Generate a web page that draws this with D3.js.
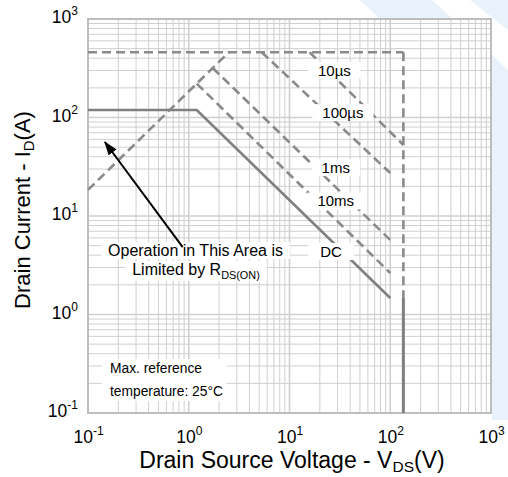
<!DOCTYPE html>
<html>
<head>
<meta charset="utf-8">
<script src="https://cdn.jsdelivr.net/npm/d3@7"></script>
<style>
  body { margin: 0; background: #fff; }
  svg { display: block; font-family: "Liberation Sans", Arial, sans-serif; }
</style>
</head>
<body>
<div id="chart"></div>
<script>
// axis decades (exponents of 10)
const xExponents = [-1, 0, 1, 2, 3];
const yExponents = [-1, 0, 1, 2, 3];

// limits
const rdsLimit = [[0.1, 18.4], [2.5, 460]];
const currentLimit = [[0.1, 460], [135, 460]];
const voltageLimitDashed = [[135, 460], [135, 1.47]];
const voltageLimitSolid = [[135, 1.47], [135, 0.1]];

// pulse lines
const pulseNames = ['10µs', '100µs', '1ms', '10ms'];
const pulseStart = [[15.8, 460], [5.3, 460], [1.73, 318], [1.2, 221]];
const pulseEnd = [[135, 52.6], [100, 27.3], [100, 5.7], [100, 2.64]];
const pulseLabelAt = [[27.9, 303], [33.9, 112], [28.8, 31], [28.8, 14.2]];

// DC line
const dcCurve = [[0.1, 119], [1.2, 119], [100, 1.47]];
const dcLabelAt = [25.8, 4.36];

// annotation
const arrowFrom = [0.87, 4.84];
const arrowTo = [0.147, 56.4];

const W = 508, H = 477;
const svg = d3.select('#chart').append('svg')
    .attr('width', W)
    .attr('height', H);

// pale watermark bands behind the chart
const wm = svg.append('g').attr('fill', '#e9f1fb');
wm.append('path').attr('d', 'M360,0 L432,0 L508,70 L508,140 Z');
wm.append('path').attr('d', 'M470,0 L508,0 L508,30 Z');
wm.append('path').attr('d', 'M492,90 L508,70 L508,420 L492,420 Z');

const x = d3.scaleLog().domain([0.1, 1000]).range([88, 491]);
const y = d3.scaleLog().domain([0.1, 1000]).range([413, 19]);

// plot background
svg.append('rect')
    .attr('x', x.range()[0]).attr('y', y.range()[1])
    .attr('width', x.range()[1] - x.range()[0])
    .attr('height', y.range()[0] - y.range()[1])
    .attr('fill', '#fff');

// grid values: 1..9 for each decade
const gridVals = [];
for (let e = -1; e < 3; e++) {
    for (let k = 1; k <= 9; k++) gridVals.push(k * Math.pow(10, e));
}
gridVals.push(1000);
const isDecade = d => Math.abs(Math.log10(d) - Math.round(Math.log10(d))) < 1e-9;

const grid = svg.append('g');
grid.selectAll('line.v')
    .data(gridVals)
    .enter().append('line')
    .attr('class', 'v')
    .attr('x1', d => x(d)).attr('x2', d => x(d))
    .attr('y1', y.range()[0]).attr('y2', y.range()[1])
    .attr('stroke', '#cfcfcf')
    .attr('stroke-width', d => isDecade(d) ? 1.6 : 1);
grid.selectAll('line.h')
    .data(gridVals)
    .enter().append('line')
    .attr('class', 'h')
    .attr('y1', d => y(d)).attr('y2', d => y(d))
    .attr('x1', x.range()[0]).attr('x2', x.range()[1])
    .attr('stroke', '#cfcfcf')
    .attr('stroke-width', d => isDecade(d) ? 1.6 : 1);

// border
svg.append('rect')
    .attr('x', x.range()[0]).attr('y', y.range()[1])
    .attr('width', x.range()[1] - x.range()[0])
    .attr('height', y.range()[0] - y.range()[1])
    .attr('fill', 'none')
    .attr('stroke', '#bdbdbd')
    .attr('stroke-width', 2);

const line = d3.line().x(d => x(d[0])).y(d => y(d[1]));
const dash = '9,5';
const lineColor = '#8a8a8a';

const curves = svg.append('g').attr('fill', 'none');
[rdsLimit, currentLimit, voltageLimitDashed].forEach(pts => {
    curves.append('path')
        .attr('d', line(pts))
        .attr('stroke', lineColor)
        .attr('stroke-width', 2.6)
        .attr('stroke-dasharray', dash);
});
pulseStart.forEach((s, i) => {
    curves.append('path')
        .attr('d', line([s, pulseEnd[i]]))
        .attr('stroke', lineColor)
        .attr('stroke-width', 2.6)
        .attr('stroke-dasharray', dash);
});
curves.append('path')
    .attr('d', line(voltageLimitSolid))
    .attr('stroke', '#7f7f7f')
    .attr('stroke-width', 3);
curves.append('path')
    .attr('d', line(dcCurve))
    .attr('stroke', '#808080')
    .attr('stroke-width', 2.6);

// labels with white boxes
function boxedText(g, parts, cx, baseline, size, padX) {
    const t = g.append('text')
        .attr('x', cx)
        .attr('y', baseline)
        .attr('text-anchor', 'middle')
        .attr('font-size', size)
        .attr('fill', '#000');
    parts.forEach(p => {
        const s = t.append('tspan').text(p.text);
        if (p.sub) s.attr('font-size', size * 0.68).attr('dy', 4);
    });
    const b = t.node().getBBox();
    g.insert('rect', () => t.node())
        .attr('x', b.x - padX)
        .attr('y', b.y)
        .attr('width', b.width + 2 * padX)
        .attr('height', b.height)
        .attr('fill', '#fff');
    return t;
}

const labels = svg.append('g');
pulseNames.forEach((n, i) => {
    const p = pulseLabelAt[i];
    boxedText(labels, [{text: n}], x(p[0]), y(p[1]) + 5.5, 15, 10);
});
boxedText(labels, [{text: 'DC'}], x(dcLabelAt[0]), y(dcLabelAt[1]) + 5.5, 15, 12);

boxedText(labels, [{text: 'Operation in This Area is'}], 195.5, 256, 16, 7);
boxedText(labels, [{text: 'Limited by R'}, {text: 'DS(ON)', sub: true}], 196, 275, 16, 7);

const note = svg.append('g');
const noteText = note.append('text').attr('font-size', 13.8).attr('fill', '#000');
noteText.append('tspan').attr('x', 110).attr('y', 373).text('Max. reference');
noteText.append('tspan').attr('x', 110).attr('y', 396).text('temperature: 25°C');
const nb = noteText.node().getBBox();
note.insert('rect', () => noteText.node())
    .attr('x', nb.x - 8).attr('y', nb.y - 2)
    .attr('width', nb.width + 12).attr('height', nb.height + 4)
    .attr('fill', '#fff');

// arrow
svg.append('defs').append('marker')
    .attr('id', 'head')
    .attr('viewBox', '0 0 14 10')
    .attr('refX', 13).attr('refY', 5)
    .attr('markerWidth', 14).attr('markerHeight', 10)
    .attr('markerUnits', 'userSpaceOnUse')
    .attr('orient', 'auto')
    .append('path').attr('d', 'M0,0 L14,5 L0,10 Z').attr('fill', '#000');
svg.append('line')
    .attr('x1', x(arrowFrom[0])).attr('y1', y(arrowFrom[1]))
    .attr('x2', x(arrowTo[0])).attr('y2', y(arrowTo[1]))
    .attr('stroke', '#000')
    .attr('stroke-width', 2)
    .attr('marker-end', 'url(#head)');

// axes
function powerLabel(sel) {
    sel.each(function(d) {
        const t = d3.select(this);
        t.text(null);
        t.append('tspan').text('10');
        t.append('tspan').attr('dy', -8).attr('font-size', 12).text(Math.round(Math.log10(d)));
    });
}

const yAxis = svg.append('g')
    .attr('transform', `translate(${x.range()[0]},0)`)
    .call(d3.axisLeft(y).tickValues(yExponents.map(e => Math.pow(10, e))).tickSize(0).tickPadding(10));
yAxis.select('.domain').remove();
yAxis.selectAll('.tick text')
    .attr('font-size', 17.5)
    .attr('font-family', '"Liberation Sans", Arial, sans-serif')
    .attr('fill', '#000')
    .attr('dy', '0.2em')
    .call(powerLabel);

const xAxis = svg.append('g')
    .attr('transform', `translate(0,${y.range()[0]})`)
    .call(d3.axisBottom(x).tickValues(xExponents.map(e => Math.pow(10, e))).tickSize(0).tickPadding(18));
xAxis.select('.domain').remove();
xAxis.selectAll('.tick text')
    .attr('font-size', 17.5)
    .attr('font-family', '"Liberation Sans", Arial, sans-serif')
    .attr('fill', '#000')
    .call(powerLabel);

// axis titles
const xt = svg.append('text')
    .attr('x', 292).attr('y', 468)
    .attr('text-anchor', 'middle')
    .attr('font-size', 23);
xt.append('tspan').text('Drain Source Voltage - V');
xt.append('tspan').attr('font-size', 15.5).attr('dy', 4).text('DS');
xt.append('tspan').attr('dy', -4).text('(V)');

const yt = svg.append('text')
    .attr('transform', 'translate(30,210) rotate(-90)')
    .attr('text-anchor', 'middle')
    .attr('font-size', 22);
yt.append('tspan').text('Drain Current - I');
yt.append('tspan').attr('font-size', 15).attr('dy', 4).text('D');
yt.append('tspan').attr('dy', -4).text('(A)');
</script>
</body>
</html>
